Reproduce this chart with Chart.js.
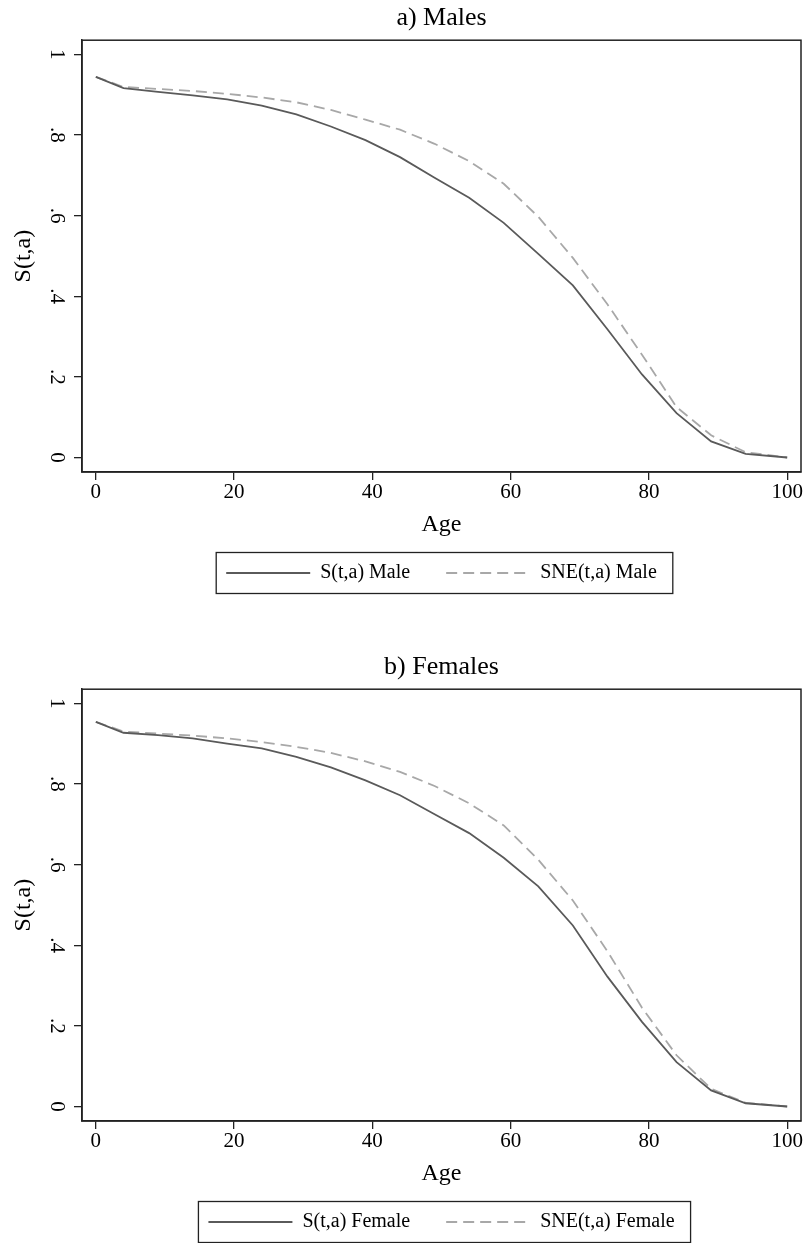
<!DOCTYPE html>
<html lang="en">
<head>
    <meta charset="UTF-8">
    <title>S(t,a) by age</title>
    <script src="https://cdn.jsdelivr.net/npm/chart.js"></script>
    <style>
        body { margin: 0; background: #fff; }
        canvas { display: block; }
    </style>
</head>
<body>

    <canvas id="chartMales" width="806" height="649"></canvas>
    <canvas id="chartFemales" width="806" height="594"></canvas>

    <script>
        // Data
        let ages = [0, 4, 9, 14, 19, 24, 29, 34, 39, 44, 49, 54, 59, 64, 69, 74, 79, 84, 89, 94, 100];

        let maleS   = [0.944, 0.916, 0.907, 0.898, 0.888, 0.873, 0.851, 0.821, 0.787, 0.745, 0.694,
                       0.644, 0.582, 0.505, 0.427, 0.318, 0.206, 0.110, 0.040, 0.009, 0.000];
        let maleSNE = [0.944, 0.919, 0.914, 0.909, 0.902, 0.893, 0.881, 0.862, 0.838, 0.813, 0.778,
                       0.735, 0.679, 0.597, 0.495, 0.380, 0.255, 0.125, 0.055, 0.013, 0.000];

        let femaleS   = [0.954, 0.927, 0.921, 0.913, 0.900, 0.888, 0.867, 0.841, 0.809, 0.772, 0.725,
                         0.678, 0.617, 0.546, 0.449, 0.322, 0.210, 0.110, 0.040, 0.008, 0.000];
        let femaleSNE = [0.954, 0.930, 0.925, 0.920, 0.913, 0.904, 0.892, 0.877, 0.856, 0.830, 0.795,
                         0.752, 0.697, 0.612, 0.511, 0.385, 0.245, 0.127, 0.044, 0.009, 0.000];

        let xTicks = [0, 20, 40, 60, 80, 100];
        let yTicks = [0, 0.2, 0.4, 0.6, 0.8, 1];
        let yTickLabels = ["0", ".2", ".4", ".6", ".8", "1"];

        const FONT = "'Liberation Serif', 'Times New Roman', serif";
        const INK = "#222";

        // frame round the plot region and a box round the legend
        const framePlugin = {
            id: "frame",
            afterDraw(chart) {
                let ctx = chart.ctx;
                let a = chart.chartArea;
                ctx.save();
                ctx.strokeStyle = INK;
                ctx.lineWidth = 1.5;
                ctx.strokeRect(a.left, a.top, a.right - a.left, a.bottom - a.top);

                let boxes = chart.legend.legendHitBoxes;
                if (boxes && boxes.length) {
                    let first = boxes[0], last = boxes[boxes.length - 1];
                    let cy = first.top + first.height / 2;
                    let l = first.left - 10, r = last.left + last.width + 16;
                    ctx.lineWidth = 1.3;
                    ctx.strokeRect(l, cy - 20.5, r - l, 41);
                }
                ctx.restore();
            }
        };

        function points(vals) {
            return ages.map((a, i) => ({ x: a, y: vals[i] }));
        }

        // legend samples keep the dash of their line
        function legendLabels(chart) {
            let items = Chart.defaults.plugins.legend.labels.generateLabels(chart);
            items.forEach(item => {
                let ds = chart.data.datasets[item.datasetIndex];
                item.lineDash = ds.borderDash || [];
                item.lineWidth = ds.borderWidth;
                item.strokeStyle = ds.borderColor;
            });
            return items;
        }

        function tampilkanChart(id, judul, sVals, sneVals, labelS, labelSNE, padBottom) {
            let ctx = document.getElementById(id).getContext("2d");
            new Chart(ctx, {
                type: "line",
                data: {
                    datasets: [{
                        label: labelS,
                        data: points(sVals),
                        borderColor: "#5a5a5a",
                        backgroundColor: "#5a5a5a",
                        borderWidth: 1.8,
                        pointRadius: 0,
                        pointStyle: "line",
                        tension: 0
                    }, {
                        label: labelSNE,
                        data: points(sneVals),
                        borderColor: "#a8a8a8",
                        backgroundColor: "#a8a8a8",
                        borderWidth: 1.8,
                        borderDash: [11, 6],
                        pointRadius: 0,
                        pointStyle: "line",
                        tension: 0
                    }]
                },
                options: {
                    responsive: false,
                    animation: false,
                    devicePixelRatio: 1,
                    layout: { padding: { left: 0, right: 5, top: 0, bottom: padBottom } },
                    plugins: {
                        tooltip: { enabled: false },
                        title: {
                            display: true,
                            text: judul,
                            fullSize: false,
                            color: "#000",
                            font: { family: FONT, size: 26, weight: "normal" },
                            padding: { top: 3, bottom: 6 }
                        },
                        legend: {
                            position: "bottom",
                            fullSize: false,
                            labels: {
                                usePointStyle: true,
                                pointStyleWidth: 84,
                                padding: 36,
                                color: "#000",
                                font: { family: FONT, size: 20 },
                                generateLabels: legendLabels
                            }
                        }
                    },
                    scales: {
                        x: {
                            type: "linear",
                            min: -2,
                            max: 102,
                            afterBuildTicks: (scale) => { scale.ticks = xTicks.map(v => ({ value: v })); },
                            afterFit: (scale) => { scale.height = 55; },
                            ticks: {
                                autoSkip: false,
                                maxRotation: 0,
                                padding: 2,
                                color: "#000",
                                font: { family: FONT, size: 21, lineHeight: 1 },
                                callback: (v) => String(v)
                            },
                            grid: { display: true, drawOnChartArea: false, drawTicks: true, tickLength: 8, color: INK, lineWidth: 1.3 },
                            border: { display: true, color: INK, width: 1.5 },
                            title: {
                                display: true,
                                text: "Age",
                                color: "#000",
                                font: { family: FONT, size: 24 },
                                padding: { top: 0, bottom: -12.4 }
                            }
                        },
                        y: {
                            type: "linear",
                            min: -0.036,
                            max: 1.035,
                            afterBuildTicks: (scale) => { scale.ticks = yTicks.map(v => ({ value: v })); },
                            afterFit: (scale) => { scale.width = 82; },
                            ticks: {
                                autoSkip: false,
                                minRotation: -90,
                                maxRotation: -90,
                                crossAlign: "center",
                                padding: 10,
                                color: "#000",
                                font: { family: FONT, size: 21, lineHeight: 1 },
                                callback: (v, i) => yTickLabels[i]
                            },
                            grid: { display: true, drawOnChartArea: false, drawTicks: true, tickLength: 8, color: INK, lineWidth: 1.3 },
                            border: { display: true, color: INK, width: 1.5 },
                            title: {
                                display: true,
                                text: "S(t,a)",
                                color: "#000",
                                font: { family: FONT, size: 24 },
                                padding: { top: 9, bottom: 0 }
                            }
                        }
                    }
                },
                plugins: [framePlugin]
            });
        }

        tampilkanChart("chartMales", "a) Males", maleS, maleSNE, "S(t,a) Male", "SNE(t,a) Male", 56);
        tampilkanChart("chartFemales", "b) Females", femaleS, femaleSNE, "S(t,a) Female", "SNE(t,a) Female", 1);
    </script>

</body>
</html>
